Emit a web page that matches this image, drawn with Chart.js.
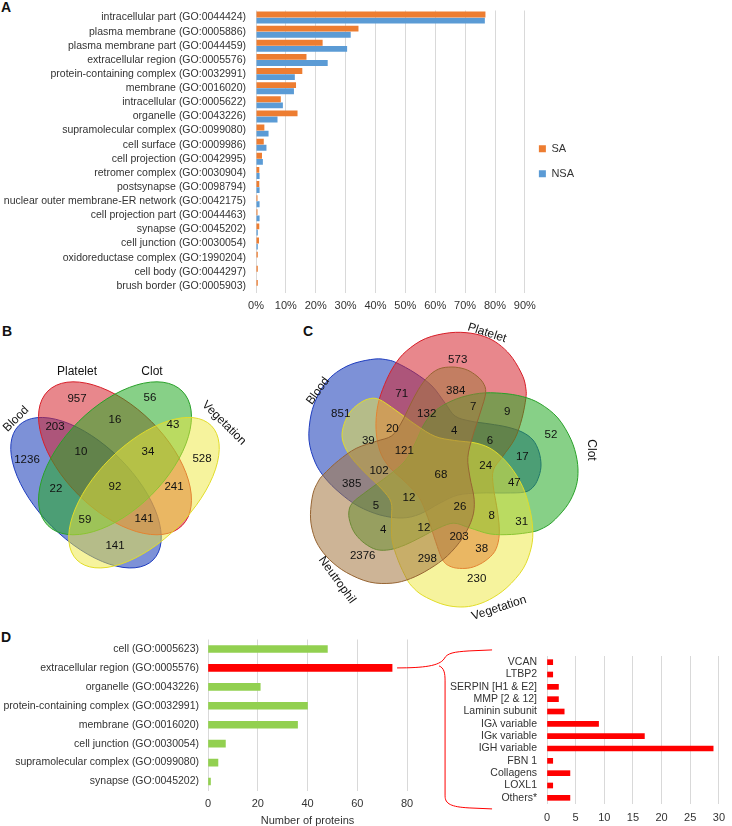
<!DOCTYPE html>
<html>
<head>
<meta charset="utf-8">
<script src="https://cdn.jsdelivr.net/npm/chart.js@4.4.0/dist/chart.umd.min.js"></script>
<style>
  body { margin: 0; background: #fff; width: 732px; height: 826px; position: relative; overflow: hidden;
         font-family: "Liberation Sans", Arial, sans-serif; }
  canvas { position: absolute; }
  .tag { position: absolute; font-weight: bold; font-size: 14px; color: #111; }
</style>
</head>
<body>
<div class="tag" style="left:1px;top:-1px">A</div>
<div class="tag" style="left:2px;top:323px">B</div>
<div class="tag" style="left:303px;top:323px">C</div>
<div class="tag" style="left:1px;top:629px">D</div>

<canvas id="chartA" width="584" height="312" style="left:0;top:0"></canvas>
<canvas id="vennB" width="300" height="260" style="left:0;top:318px"></canvas>
<canvas id="vennC" width="310" height="305" style="left:295px;top:318px"></canvas>
<canvas id="chartD" width="500" height="198" style="left:0;top:630px"></canvas>
<canvas id="chartE" width="292" height="196" style="left:440px;top:630px"></canvas>

<script>
// ---- data ----
const goTerms = [
  'intracellular part (GO:0044424)', 'plasma membrane (GO:0005886)', 'plasma membrane part (GO:0044459)',
  'extracellular region (GO:0005576)', 'protein-containing complex (GO:0032991)', 'membrane (GO:0016020)',
  'intracellular (GO:0005622)', 'organelle (GO:0043226)', 'supramolecular complex (GO:0099080)',
  'cell surface (GO:0009986)', 'cell projection (GO:0042995)', 'retromer complex (GO:0030904)',
  'postsynapse (GO:0098794)', 'nuclear outer membrane-ER network (GO:0042175)', 'cell projection part (GO:0044463)',
  'synapse (GO:0045202)', 'cell junction (GO:0030054)', 'oxidoreductase complex (GO:1990204)',
  'cell body (GO:0044297)', 'brush border (GO:0005903)'
];
const saPct  = [76.8, 34.3, 22.3, 16.9, 15.5, 13.4, 8.3, 13.9, 2.8, 2.6, 2.0, 1.1, 1.1, 0.5, 0.5, 1.1, 1.0, 0.6, 0.6, 0.6];
const nsaPct = [76.6, 31.7, 30.5, 24.0, 13.0, 12.7, 9.0, 7.2, 4.2, 3.5, 2.3, 1.2, 1.2, 1.2, 1.2, 0.6, 0.6, 0, 0, 0];

const vennBSets = ['Blood', 'Platelet', 'Clot', 'Vegetation'];
const vennBCounts = [957, 56, 203, 16, 43, 10, 34, 1236, 528, 22, 92, 241, 59, 141, 141];

const vennCSets = ['Blood', 'Platelet', 'Clot', 'Vegetation', 'Neutrophil'];
const vennCCounts = [573, 71, 384, 7, 9, 851, 132, 20, 4, 6, 52, 39, 121, 17, 102, 68,
                     24, 47, 385, 12, 5, 26, 8, 31, 4, 12, 203, 38, 2376, 298, 230];

const ccTerms = ['cell (GO:0005623)', 'extracellular region (GO:0005576)', 'organelle (GO:0043226)',
  'protein-containing complex (GO:0032991)', 'membrane (GO:0016020)', 'cell junction (GO:0030054)',
  'supramolecular complex (GO:0099080)', 'synapse (GO:0045202)'];
const ccCounts = [48, 74, 21, 40, 36, 7, 4, 1];

const ecmProteins = ['VCAN', 'LTBP2', 'SERPIN [H1 & E2]', 'MMP [2 & 12]', 'Laminin subunit', 'IGλ variable',
  'IGκ variable', 'IGH variable', 'FBN 1', 'Collagens', 'LOXL1', 'Others*'];
const ecmCounts = [1, 1, 2, 2, 3, 9, 17, 29, 1, 4, 1, 4];

// ---- layout of the venn diagrams (page pixels) ----
const spotsB = [[77,399],[150,398],[55,427],[115,420],[173,425],[81,452],[148,452],[27,460],[202,459],
                [56,489],[115,487],[174,487],[85,520],[144,519],[115,546]];
const setLabelsB = [[16,419,-45],[77,372,0],[152,372,0],[224,423,45]];
const colors = {
  blue:   ['rgba(19,55,182,0.55)', 'rgb(30,60,190)'],
  red:    ['rgba(213,37,46,0.55)', 'rgb(215,30,40)'],
  green:  ['rgba(37,170,37,0.55)', 'rgb(40,160,40)'],
  yellow: ['rgba(237,231,60,0.5)', 'rgb(225,220,40)'],
  brown:  ['rgba(164,118,63,0.55)', 'rgb(150,100,50)']
};
const ellipsesB = [
  { cx: 86,  cy: 492.7, rx: 95, ry: 48,   rot: 45,  c: colors.blue },
  { cx: 115, cy: 458.3, rx: 95, ry: 51.7, rot: 45,  c: colors.red },
  { cx: 115, cy: 458.3, rx: 95, ry: 51.7, rot: -45, c: colors.green },
  { cx: 144, cy: 492.7, rx: 95, ry: 48,   rot: -45, c: colors.yellow }
];

const spotsC = [[457.7,360],[401.7,394.3],[455.7,390.7],[473.3,407.3],[507.3,411.7],[340.7,414.3],[426.7,414.3],
  [392.3,429.3],[454.3,430.7],[490,440.7],[551,435],[368.3,440.7],[404.3,451],[522.3,456.7],[379,471],[441,475],
  [485.7,465.7],[514.3,482.7],[351.7,484.3],[409,498.3],[376,505.7],[460,506.7],[491.7,516],[521.7,521.7],
  [383.3,530],[424,527.7],[459,536.7],[481.7,549.3],[362.7,556],[427.3,559.3],[476.7,579.3]];
const setLabelsC = [[318,391,-54],[487,333,18],[591,450,90],[499,608,-18],[337,580,54]];
const centerC = [437, 469.4];
const bloodOutline = [[309,440],[311,415],[318,395],[328,380],[340,370],[355,363],[375,359],[388,360],[397,363],
  [415,373],[432,386],[445,403],[455,416],[470,421],[490,424],[507,427],[522,432],[533,440],[539,452],[541,465],
  [539,476],[534,486],[525,492],[505,493],[480,493],[458,495],[440,503],[420,514],[402,518],[380,515],[358,506],
  [340,493],[325,478],[315,462]];
const colorsC = [colors.blue, colors.red, colors.green, colors.yellow, colors.brown];

Chart.defaults.font.family = '"Liberation Sans", Arial, sans-serif';
Chart.defaults.font.size = 10.5;
Chart.defaults.color = '#333';
Chart.defaults.animation = false;
Chart.defaults.responsive = false;
Chart.defaults.plugins.tooltip.enabled = false;

const fixWidth = w => scale => { scale.width = w; };
const fixHeight = h => scale => { scale.height = h; };

// ---- A: GO cellular component, SA vs NSA ----
new Chart(document.getElementById('chartA'), {
  type: 'bar',
  data: {
    labels: goTerms,
    datasets: [
      { label: 'SA', data: saPct, backgroundColor: '#ed7d31', categoryPercentage: 0.86, barPercentage: 0.96 },
      { label: 'NSA', data: nsaPct, backgroundColor: '#5b9bd5', categoryPercentage: 0.86, barPercentage: 0.96 }
    ]
  },
  options: {
    indexAxis: 'y',
    layout: { padding: { top: 10.5 } },
    plugins: {
      legend: { position: 'right', labels: { boxWidth: 7, boxHeight: 7, padding: 14, font: { size: 11 } } }
    },
    scales: {
      y: { grid: { display: false }, border: { display: false }, ticks: { autoSkip: false, padding: 2 },
           afterFit: fixWidth(256) },
      x: { min: 0, max: 90, ticks: { stepSize: 10, padding: 6, font: { size: 11 }, callback: v => v + '%' },
           grid: { color: '#d9d9d9', drawTicks: false }, border: { display: false }, afterFit: fixHeight(19) }
    }
  }
});

// ---- venn helpers ----
function toPx(chart, p) {
  return [chart.scales.x.getPixelForValue(p[0]), chart.scales.y.getPixelForValue(p[1])];
}
function smoothPath(ctx, pts) {
  const n = pts.length;
  ctx.beginPath();
  ctx.moveTo(pts[0][0], pts[0][1]);
  for (let i = 0; i < n; i++) {
    const p0 = pts[(i - 1 + n) % n], p1 = pts[i], p2 = pts[(i + 1) % n], p3 = pts[(i + 2) % n];
    ctx.bezierCurveTo(p1[0] + (p2[0] - p0[0]) / 6, p1[1] + (p2[1] - p0[1]) / 6,
                      p2[0] - (p3[0] - p1[0]) / 6, p2[1] - (p3[1] - p1[1]) / 6, p2[0], p2[1]);
  }
  ctx.closePath();
}
function rotateAround(pts, c, deg) {
  const a = deg * Math.PI / 180, cs = Math.cos(a), sn = Math.sin(a);
  return pts.map(([x, y]) => {
    const dx = x - c[0], dy = y - c[1];
    return [c[0] + dx * cs - dy * sn, c[1] + dx * sn + dy * cs];
  });
}
function drawCountsAndNames(chart, names, nameSpots, fontSize) {
  const ctx = chart.ctx;
  const meta = chart.getDatasetMeta(0);
  const data = chart.data.datasets[0].data;
  ctx.save();
  ctx.fillStyle = '#111';
  ctx.textAlign = 'center';
  ctx.textBaseline = 'middle';
  ctx.font = fontSize + 'px "Liberation Sans", Arial, sans-serif';
  meta.data.forEach((pt, i) => ctx.fillText(String(data[i].n), pt.x, pt.y));
  ctx.font = '12px "Liberation Sans", Arial, sans-serif';
  names.forEach((name, i) => {
    const [px, py] = toPx(chart, nameSpots[i]);
    ctx.save();
    ctx.translate(px, py);
    ctx.rotate(nameSpots[i][2] * Math.PI / 180);
    ctx.fillText(name, 0, 0);
    ctx.restore();
  });
  ctx.restore();
}
function vennOptions(x0, x1, y0, y1) {
  return {
    layout: { padding: 0 },
    plugins: { legend: { display: false } },
    scales: {
      x: { type: 'linear', min: x0, max: x1, display: false },
      y: { type: 'linear', min: y0, max: y1, reverse: true, display: false }
    }
  };
}

// ---- B: four-set venn ----
new Chart(document.getElementById('vennB'), {
  type: 'scatter',
  data: { datasets: [{ data: vennBCounts.map((n, i) => ({ x: spotsB[i][0], y: spotsB[i][1], n })), pointRadius: 0 }] },
  options: vennOptions(0, 300, 318, 578),
  plugins: [{
    id: 'ellipses',
    beforeDatasetsDraw(chart) {
      const ctx = chart.ctx;
      ellipsesB.forEach(e => {
        const [px, py] = toPx(chart, [e.cx, e.cy]);
        ctx.beginPath();
        ctx.ellipse(px, py, e.rx, e.ry, e.rot * Math.PI / 180, 0, Math.PI * 2);
        ctx.fillStyle = e.c[0];
        ctx.fill();
        ctx.strokeStyle = e.c[1];
        ctx.lineWidth = 1;
        ctx.stroke();
      });
    },
    afterDatasetsDraw(chart) { drawCountsAndNames(chart, vennBSets, setLabelsB, 11.5); }
  }]
});

// ---- C: five-set venn ----
new Chart(document.getElementById('vennC'), {
  type: 'scatter',
  data: { datasets: [{ data: vennCCounts.map((n, i) => ({ x: spotsC[i][0], y: spotsC[i][1], n })), pointRadius: 0 }] },
  options: vennOptions(295, 605, 318, 623),
  plugins: [{
    id: 'blobs',
    beforeDatasetsDraw(chart) {
      const ctx = chart.ctx;
      vennCSets.forEach((_, k) => {
        const pts = rotateAround(bloodOutline, centerC, 72 * k).map(p => toPx(chart, p));
        smoothPath(ctx, pts);
        ctx.fillStyle = colorsC[k][0];
        ctx.fill();
        ctx.strokeStyle = colorsC[k][1];
        ctx.lineWidth = 1;
        ctx.stroke();
      });
    },
    afterDatasetsDraw(chart) { drawCountsAndNames(chart, vennCSets, setLabelsC, 11.5); }
  }]
});

// ---- D: cellular component counts ----
const highlight = ccTerms.indexOf('extracellular region (GO:0005576)');
new Chart(document.getElementById('chartD'), {
  type: 'bar',
  data: {
    labels: ccTerms,
    datasets: [{ data: ccCounts, barThickness: 7,
      backgroundColor: ccCounts.map((_, i) => i === highlight ? '#ff0000' : '#92d050') }]
  },
  options: {
    indexAxis: 'y',
    layout: { padding: { top: 9.5, right: 93 } },
    plugins: { legend: { display: false } },
    scales: {
      y: { grid: { display: false }, border: { display: false }, ticks: { autoSkip: false, padding: 1 },
           afterFit: fixWidth(208) },
      x: { min: 0, max: 80, ticks: { stepSize: 20, padding: 6, font: { size: 11 } },
           grid: { color: '#d9d9d9', drawTicks: false }, border: { display: false },
           title: { display: true, text: 'Number of proteins', font: { size: 11 }, padding: { top: 3, bottom: 0 } },
           afterFit: fixHeight(37) }
    }
  },
  plugins: [{
    id: 'brace',
    afterDraw(chart) {
      const ctx = chart.ctx;
      const tx = chart.scales.x.getPixelForValue(ccCounts[highlight]) + 5;
      const ty = chart.scales.y.getPixelForValue(highlight);
      ctx.save();
      ctx.strokeStyle = '#ff0000';
      ctx.lineWidth = 1;
      ctx.beginPath();
      ctx.moveTo(tx, ty);
      ctx.bezierCurveTo(tx + 27, ty, tx + 42, ty - 2, tx + 47, ty - 9);
      ctx.bezierCurveTo(tx + 50, ty - 15, tx + 57, ty - 16, tx + 72, ty - 17);
      ctx.lineTo(tx + 95, ty - 18);
      ctx.moveTo(tx + 42, ty - 2);
      ctx.bezierCurveTo(tx + 47, ty, tx + 48, ty + 5, tx + 48, ty + 13);
      ctx.lineTo(tx + 48, ty + 128);
      ctx.bezierCurveTo(tx + 48, ty + 136, tx + 54, ty + 139, tx + 72, ty + 140);
      ctx.lineTo(tx + 95, ty + 141);
      ctx.stroke();
      ctx.restore();
    }
  }]
});

// ---- D (right): extracellular region breakdown ----
new Chart(document.getElementById('chartE'), {
  type: 'bar',
  data: { labels: ecmProteins, datasets: [{ data: ecmCounts, backgroundColor: '#ff0000', barThickness: 5 }] },
  options: {
    indexAxis: 'y',
    layout: { padding: { top: 26, right: 6 } },
    plugins: { legend: { display: false } },
    scales: {
      y: { grid: { display: false }, border: { display: false }, ticks: { autoSkip: false, padding: 2 },
           afterFit: fixWidth(107) },
      x: { min: 0, max: 30, ticks: { stepSize: 5, padding: 7, font: { size: 11 } },
           grid: { color: '#d9d9d9', drawTicks: false }, border: { display: false }, afterFit: fixHeight(22) }
    }
  }
});
</script>
</body>
</html>
